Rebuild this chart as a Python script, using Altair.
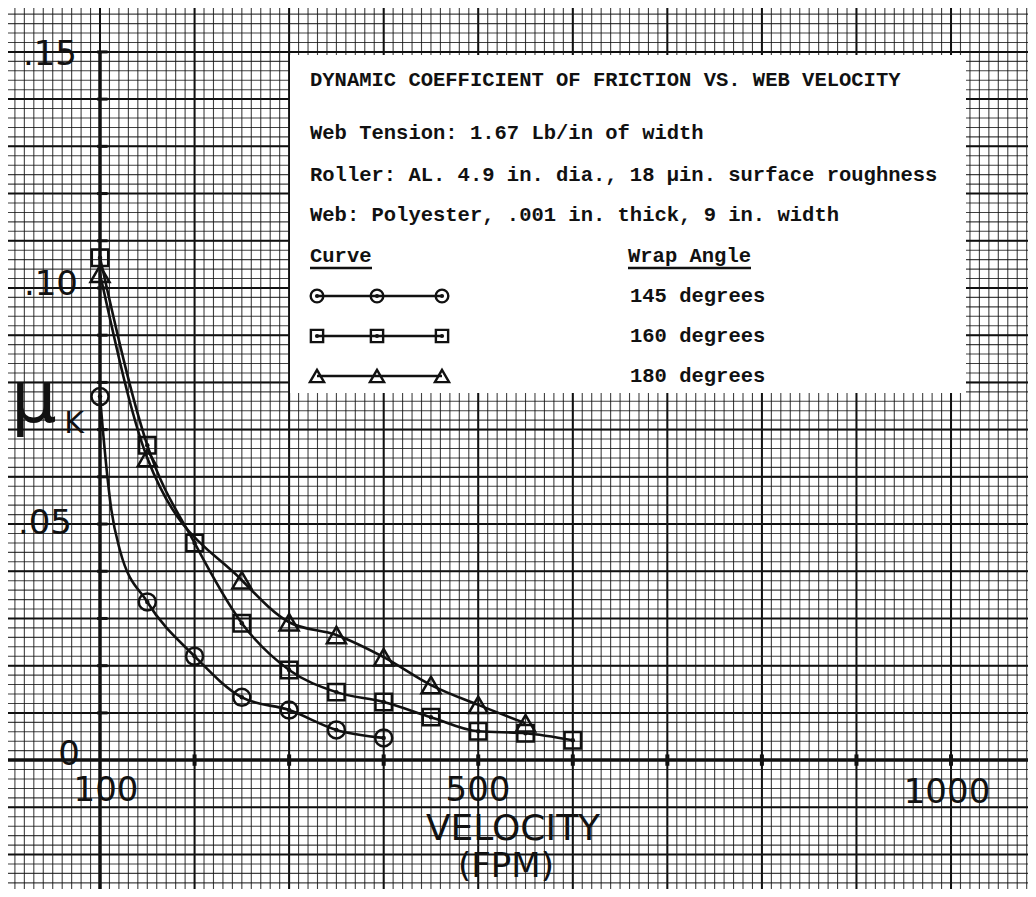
import altair as alt
import pandas as pd
import numpy as np

# ---------------- data ----------------
# 145 degree wrap (circles)
V145 = [100, 150, 200, 250, 300, 350, 400]
MU145 = [0.077, 0.0335, 0.022, 0.0133, 0.0106, 0.0064, 0.0047]
# hand-drawn curve trace for 145 degrees
C145_V = [100, 103, 112, 121, 150, 200, 250, 300, 350, 400]
C145_MU = [0.077, 0.070, 0.053, 0.0445, 0.0335, 0.022, 0.0133, 0.0106, 0.0064, 0.0047]

# 160 degree wrap (squares)
V160 = [100, 150, 200, 250, 300, 350, 400, 450, 500, 550, 600]
MU160 = [0.1064, 0.0667, 0.046, 0.029, 0.0191, 0.0144, 0.0123, 0.0091, 0.0061, 0.0057, 0.0042]

# 180 degree wrap (triangles)
V180 = [100, 150, 250, 300, 350, 400, 450, 500, 550]
MU180 = [0.103, 0.064, 0.0381, 0.0292, 0.0265, 0.0218, 0.0159, 0.0117, 0.0078]

Y_TICK_LABELS = [".15", ".10", ".05", "0"]
X_TICK_LABELS = ["100", "500", "1000"]

# ---------------- layout ----------------
W, H = 1020, 881
X_DOMAIN = [2.7, 1081.4]
Y_DOMAIN = [-0.0273, 0.1593]
xs = alt.Scale(domain=X_DOMAIN, nice=False, zero=False)
ys = alt.Scale(domain=Y_DOMAIN, nice=False, zero=False)
INK = "#111111"

fine_v = pd.DataFrame({"v": [round(v, 3) for v in np.arange(10, 1081, 10)]})
heavy_v = pd.DataFrame({"v": [float(v) for v in range(100, 1001, 100)]})
fine_h = pd.DataFrame({"m": [round(m, 4) for m in np.arange(-0.026, 0.1591, 0.002)]})
heavy_h = pd.DataFrame({"m": [round(m, 4) for m in np.arange(-0.02, 0.1501, 0.01)]})

grid_fv = alt.Chart(fine_v).mark_rule(color=INK, strokeWidth=1.1, opacity=0.8).encode(
    x=alt.X("v:Q", scale=xs, axis=None))
grid_fh = alt.Chart(fine_h).mark_rule(color=INK, strokeWidth=1.1, opacity=0.8).encode(
    y=alt.Y("m:Q", scale=ys, axis=None))
grid_hv = alt.Chart(heavy_v).mark_rule(color=INK, strokeWidth=2).encode(
    x=alt.X("v:Q", scale=xs, axis=None))
grid_hh = alt.Chart(heavy_h).mark_rule(color=INK, strokeWidth=2).encode(
    y=alt.Y("m:Q", scale=ys, axis=None))

one = pd.DataFrame({"a": [0]})

# legend / annotation box (white patch on the graph paper)
box = alt.Chart(one).mark_rect(fill="white").encode(
    x=alt.value(282), x2=alt.value(958), y=alt.value(47), y2=alt.value(385))

# axes
yaxis = alt.Chart(pd.DataFrame({"x": [100.0], "y0": [Y_DOMAIN[0]], "y1": [0.15]})).mark_rule(
    color=INK, strokeWidth=3.5).encode(
    x=alt.X("x:Q", scale=xs, axis=None), y=alt.Y("y0:Q", scale=ys, axis=None), y2="y1:Q")
xaxis = alt.Chart(pd.DataFrame({"y": [0.0]})).mark_rule(color=INK, strokeWidth=3.5).encode(
    y=alt.Y("y:Q", scale=ys, axis=None))
ytick_df = pd.DataFrame({"m": [round(m, 3) for m in np.arange(0.01, 0.1501, 0.01)], "x0": 97.0, "x1": 108.0})
yticks = alt.Chart(ytick_df).mark_rule(color=INK, strokeWidth=3).encode(
    x=alt.X("x0:Q", scale=xs, axis=None), x2="x1:Q", y=alt.Y("m:Q", scale=ys, axis=None))
xtick_df = pd.DataFrame({"v": [float(v) for v in range(200, 1001, 100)], "y0": -0.0012, "y1": 0.0012})
xticks = alt.Chart(xtick_df).mark_rule(color=INK, strokeWidth=4).encode(
    x=alt.X("v:Q", scale=xs, axis=None), y=alt.Y("y0:Q", scale=ys, axis=None), y2="y1:Q")


def curve(vs, mus):
    df = pd.DataFrame({"v": vs, "mu": mus})
    return alt.Chart(df).mark_line(color=INK, strokeWidth=2.6, interpolate="monotone").encode(
        x=alt.X("v:Q", scale=xs, axis=None), y=alt.Y("mu:Q", scale=ys, axis=None))


def markers(vs, mus, shape, size):
    df = pd.DataFrame({"v": vs, "mu": mus})
    base = alt.Chart(df).encode(x=alt.X("v:Q", scale=xs, axis=None), y=alt.Y("mu:Q", scale=ys, axis=None))
    outline = base.mark_point(shape=shape, size=size, filled=False, color=INK, strokeWidth=2.5, opacity=1)
    if shape == "triangle-up":
        return outline
    dot = base.mark_point(shape="circle", size=20, filled=True, color=INK, opacity=1)
    return outline + dot


series = (curve(C145_V, C145_MU) + curve(V160, MU160) + curve(V180, MU180)
          + markers(V145, MU145, "circle", 290)
          + markers(V160, MU160, "square", 270)
          + markers(V180, MU180, "triangle-up", 360))

# ---------------- annotation text ----------------
mono = dict(font="Liberation Mono", fontWeight="bold", fontSize=20.5, align="left", baseline="middle", color=INK)


def txt(s, x, y, **kw):
    return alt.Chart(one).mark_text(text=s, **kw).encode(x=alt.value(x), y=alt.value(y))


def rule_px(x1, x2, y, w=2.4):
    return alt.Chart(one).mark_rule(color=INK, strokeWidth=w).encode(
        x=alt.value(x1), x2=alt.value(x2), y=alt.value(y))


def sym_px(x, y, shape, size):
    layer = alt.Chart(one).mark_point(shape=shape, size=size, filled=False, color=INK,
                                      strokeWidth=2.4, opacity=1).encode(x=alt.value(x), y=alt.value(y))
    if shape != "triangle-up":
        layer = layer + alt.Chart(one).mark_point(shape="circle", size=18, filled=True, color=INK,
                                                  opacity=1).encode(x=alt.value(x), y=alt.value(y))
    return layer


ann = (txt("DYNAMIC COEFFICIENT OF FRICTION VS. WEB VELOCITY", 302, 72, **mono)
       + txt("Web Tension: 1.67 Lb/in of width", 302, 125, **mono)
       + txt("Roller: AL. 4.9 in. dia., 18 \u00b5in. surface roughness", 302, 167, **mono)
       + txt("Web: Polyester, .001 in. thick, 9 in. width", 302, 207, **mono)
       + txt("Curve", 302, 248, **mono) + rule_px(302, 364, 260)
       + txt("Wrap Angle", 620, 248, **mono) + rule_px(620, 743, 260)
       + txt("145 degrees", 622, 288, **mono)
       + txt("160 degrees", 622, 328, **mono)
       + txt("180 degrees", 622, 368, **mono))

LEG_X = [309, 369, 434]
leg = alt.layer()
for y, shape, size in [(288, "circle", 160), (328, "square", 150), (368, "triangle-up", 200)]:
    leg = leg + rule_px(LEG_X[0], LEG_X[-1], y, 2.6)
    for x in LEG_X:
        leg = leg + sym_px(x, y, shape, size)

hand = dict(font="DejaVu Sans", fontWeight="normal", fontSize=34, baseline="middle", color=INK)
labels = (txt(Y_TICK_LABELS[0], 69, 47, align="right", **hand)
          + txt(Y_TICK_LABELS[1], 70, 277, align="right", **hand)
          + txt(Y_TICK_LABELS[2], 64, 516, align="right", **hand)
          + txt(Y_TICK_LABELS[3], 61, 747, align="center", **hand)
          + txt(X_TICK_LABELS[0], 98, 783, align="center", **hand)
          + txt(X_TICK_LABELS[1], 470, 783, align="center", **hand)
          + txt(X_TICK_LABELS[2], 939, 785, align="center", **hand)
          + txt("VELOCITY", 505, 821, align="center", font="DejaVu Sans", fontSize=36,
                baseline="middle", color=INK)
          + txt("(FPM)", 498, 859, align="center", **hand)
          + txt("\u03bc", 26, 392, align="center", font="DejaVu Sans", fontSize=72, baseline="middle", color=INK)
          + txt("K", 66, 416, align="center", font="DejaVu Sans", fontSize=30, baseline="middle", color=INK))

chart = alt.layer(grid_fv, grid_fh, grid_hv, grid_hh, box, yaxis, xaxis, yticks, xticks,
                  series, ann, leg, labels).properties(
    width=W, height=H, padding=0, autosize=alt.AutoSizeParams(type="none"), background="white"
).configure_view(stroke=None)

chart.save("out.html", embed_options={"renderer": "svg", "actions": False})
